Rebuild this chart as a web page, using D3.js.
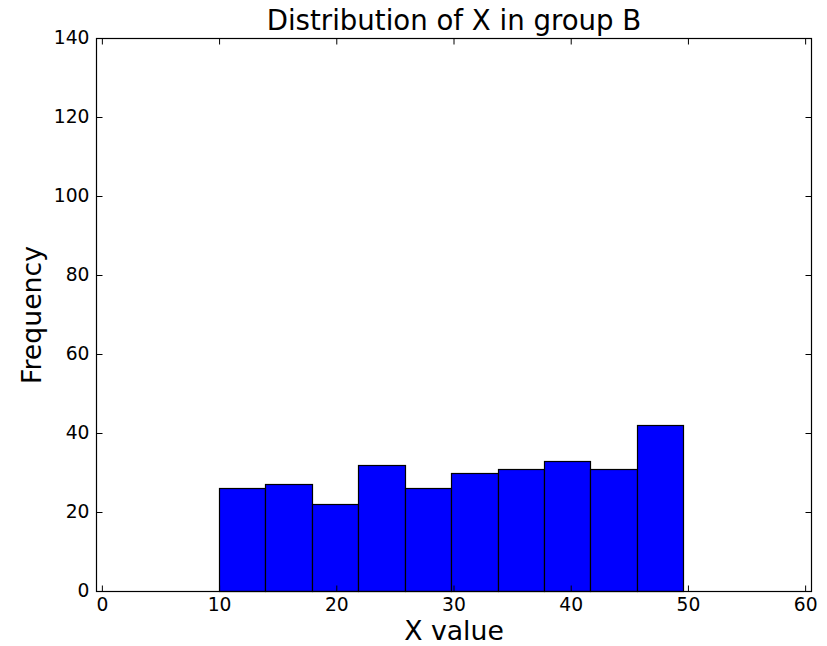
<!DOCTYPE html>
<html>
<head>
<meta charset="utf-8">
<script src="https://cdn.jsdelivr.net/npm/d3@7"></script>
<style>
  html, body { margin: 0; padding: 0; background: #fff; }
  svg { display: block; }
  text { font-family: "DejaVu Sans", sans-serif; fill: #000; }
</style>
</head>
<body>
<svg id="chart" width="827" height="646"></svg>
<script>
// Histogram bin edges (X value) and counts per bin
const binEdges = [10.0, 13.96, 17.92, 21.88, 25.84, 29.80, 33.76, 37.72, 41.68, 45.64, 49.60];
const counts = [26, 27, 22, 32, 26, 30, 31, 33, 31, 42];
const xTicks = [0, 10, 20, 30, 40, 50, 60];
const yTicks = [0, 20, 40, 60, 80, 100, 120, 140];
const titleText = "Distribution of X in group B";
const xLabel = "X value";
const yLabel = "Frequency";

const W = 827, H = 646;
const m = { left: 96, top: 38, right: 16, bottom: 55 };
const svg = d3.select("#chart");

const x = d3.scaleLinear().domain([-0.5, 60.5]).range([m.left, W - m.right]);
const y = d3.scaleLinear().domain([0, 140]).range([H - m.bottom, m.top]);

const bins = counts.map((c, i) => ({ x0: binEdges[i], x1: binEdges[i + 1], c }));

// bars
svg.append("g").selectAll("rect").data(bins).join("rect")
  .attr("x", d => Math.round(x(d.x0)) + 0.5)
  .attr("y", d => Math.round(y(d.c)) + 0.5)
  .attr("width", d => Math.round(x(d.x1)) - Math.round(x(d.x0)))
  .attr("height", d => Math.round(y(0)) - Math.round(y(d.c)))
  .attr("fill", "#0000ff")
  .attr("stroke", "#000")
  .attr("stroke-width", 1.2);

const tickLen = 6;
const tickFont = 18.7;
const x0 = Math.round(x.range()[0]) + 0.5, x1 = Math.round(x.range()[1]) + 0.5;
const y0 = Math.round(y.range()[0]) + 0.5, y1 = Math.round(y.range()[1]) + 0.5;

// axes via d3 axis generators (inward ticks)
const axB = svg.append("g").attr("transform", `translate(0,${y0})`)
  .call(d3.axisBottom(x).tickValues(xTicks).tickSizeInner(-tickLen).tickSizeOuter(0).tickPadding(6));
const axT = svg.append("g").attr("transform", `translate(0,${y1})`)
  .call(d3.axisTop(x).tickValues(xTicks).tickSizeInner(-tickLen).tickSizeOuter(0).tickFormat(""));
const axL = svg.append("g").attr("transform", `translate(${x0},0)`)
  .call(d3.axisLeft(y).tickValues(yTicks).tickSizeInner(-tickLen).tickSizeOuter(0).tickPadding(7));
const axR = svg.append("g").attr("transform", `translate(${x1},0)`)
  .call(d3.axisRight(y).tickValues(yTicks).tickSizeInner(-tickLen).tickSizeOuter(0).tickFormat(""));

[axB, axT, axL, axR].forEach(g => {
  g.select(".domain").remove();
  g.selectAll("line").attr("stroke", "#000").attr("stroke-width", 1);
  g.selectAll("text").attr("font-family", "DejaVu Sans").attr("font-size", tickFont).attr("fill", "#000");
});

// frame
svg.append("rect")
  .attr("x", x0).attr("y", y1)
  .attr("width", x1 - x0).attr("height", y0 - y1)
  .attr("fill", "none").attr("stroke", "#000").attr("stroke-width", 1.2);

// title
svg.append("text")
  .attr("x", (x0 + x1) / 2).attr("y", 30)
  .attr("text-anchor", "middle")
  .attr("font-size", 27.6)
  .text(titleText);

// x label
svg.append("text")
  .attr("x", (x0 + x1) / 2).attr("y", 640)
  .attr("text-anchor", "middle")
  .attr("font-size", 26.7)
  .text(xLabel);

// y label
svg.append("text")
  .attr("transform", `translate(41,${(y0 + y1) / 2}) rotate(-90)`)
  .attr("text-anchor", "middle")
  .attr("font-size", 26.7)
  .text(yLabel);
</script>
</body>
</html>
